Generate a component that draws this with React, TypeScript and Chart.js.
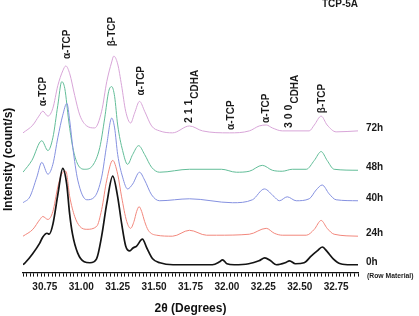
import { useEffect, useRef } from "react";
import { Chart, registerables } from "chart.js";

Chart.register(...registerables);

// 2θ positions (degrees) and stacked intensities (count/s, offset per sample)
const theta0h = [30.6, 30.615, 30.665, 30.715, 30.735, 30.765, 30.78, 30.805, 30.84, 30.873, 30.9, 30.92, 30.94, 30.975, 31.02, 31.06, 31.105, 31.14, 31.175, 31.216, 31.25, 31.277, 31.305, 31.333, 31.355, 31.38, 31.42, 31.45, 31.49, 31.54, 31.63, 31.75, 31.9, 31.95, 31.97, 32.0, 32.05, 32.15, 32.22, 32.26, 32.3, 32.34, 32.4, 32.43, 32.47, 32.53, 32.58, 32.62, 32.655, 32.69, 32.73, 32.78, 32.85, 32.9];
const counts0h = [8, 10, 19, 30, 36, 40, 39, 49, 80, 106, 90, 60, 39, 20, 11, 10, 14, 37, 70, 98, 77, 50, 27, 22, 25, 27, 34, 25, 14, 10, 8, 8, 8, 11, 13, 9, 8, 9, 12, 15, 12, 8, 10, 12, 9, 10, 17, 22, 26, 21, 14, 9, 8, 8];

const theta24h = [30.6, 30.668, 30.716, 30.736, 30.771, 30.805, 30.839, 30.865, 30.894, 30.921, 30.955, 30.99, 31.038, 31.106, 31.14, 31.175, 31.216, 31.25, 31.277, 31.312, 31.339, 31.362, 31.38, 31.397, 31.415, 31.435, 31.46, 31.517, 31.627, 31.743, 31.86, 31.928, 32.154, 32.27, 32.325, 32.38, 32.545, 32.6, 32.647, 32.688, 32.736, 32.9];
const counts24h = [37, 44, 54, 57, 54, 62, 87, 100, 103, 77, 57, 47, 44, 47, 64, 94, 114, 100, 77, 52, 45, 52, 62, 67, 62, 52, 43, 38, 37, 43, 38, 38, 39, 45, 40, 38, 38, 44, 53, 45, 39, 37];

const theta40h = [30.6, 30.647, 30.695, 30.729, 30.771, 30.805, 30.839, 30.873, 30.901, 30.921, 30.942, 30.976, 31.038, 31.092, 31.14, 31.175, 31.209, 31.229, 31.25, 31.284, 31.318, 31.353, 31.4, 31.435, 31.483, 31.538, 31.743, 32.038, 32.175, 32.257, 32.325, 32.36, 32.414, 32.476, 32.565, 32.613, 32.654, 32.702, 32.75, 32.9];
const counts40h = [71, 77, 97, 112, 100, 110, 137, 160, 172, 154, 127, 94, 74, 77, 97, 130, 157, 147, 120, 97, 85, 90, 102, 94, 79, 73, 75, 71, 74, 85, 77, 73, 77, 73, 75, 84, 89, 80, 74, 73];

const theta48h = [30.6, 30.661, 30.729, 30.771, 30.805, 30.839, 30.866, 30.887, 30.914, 30.942, 30.976, 31.024, 31.079, 31.127, 31.161, 31.188, 31.209, 31.229, 31.25, 31.284, 31.318, 31.353, 31.394, 31.435, 31.483, 31.538, 31.743, 31.962, 32.065, 32.154, 32.243, 32.312, 32.38, 32.449, 32.545, 32.6, 32.647, 32.688, 32.736, 32.9];
const counts48h = [102, 114, 134, 124, 137, 170, 194, 187, 154, 127, 110, 105, 109, 127, 157, 184, 189, 179, 150, 124, 110, 120, 129, 120, 107, 102, 105, 105, 102, 103, 109, 104, 103, 105, 105, 114, 123, 114, 105, 104];

const theta72h = [30.6, 30.668, 30.709, 30.736, 30.771, 30.805, 30.839, 30.873, 30.894, 30.921, 30.955, 30.99, 31.038, 31.092, 31.14, 31.175, 31.209, 31.223, 31.25, 31.277, 31.305, 31.339, 31.366, 31.4, 31.435, 31.483, 31.538, 31.627, 31.743, 31.832, 32.017, 32.154, 32.222, 32.27, 32.312, 32.38, 32.565, 32.6, 32.647, 32.688, 32.75, 32.9];
const counts72h = [142, 150, 159, 164, 159, 167, 190, 205, 210, 202, 180, 160, 149, 147, 164, 194, 214, 220, 212, 190, 164, 152, 162, 174, 164, 149, 144, 142, 149, 144, 142, 144, 149, 150, 147, 144, 144, 150, 159, 150, 143, 144];

const sampleNames = ["0h", "24h", "40h", "48h", "72h"];
const sampleThetas = [theta0h, theta24h, theta40h, theta48h, theta72h];
const sampleCounts = [counts0h, counts24h, counts40h, counts48h, counts72h];

// Reflection labels: 2θ of the peak, text, subscript, and level of the text foot
const peakTheta = [30.736, 30.901, 31.216, 31.414, 31.743, 32.031, 32.27, 32.428, 32.654];
const peakText = ["α-TCP", "α-TCP", "β-TCP", "α-TCP", "2 1 1", "α-TCP", "α-TCP", "3 0 0", "β-TCP"];
const peakSub = ["", "", "", "", "CDHA", "", "", "CDHA", ""];
const peakLevel = [169, 217, 230, 180, 152, 145, 152, 147, 162];

const xTickStep = 0.025;
const thetaMin = 30.6;
const thetaMax = 32.9;

const lineColors = ["#141414", "#f2877c", "#8591e0", "#62bd98", "#d8a5d8"];
const FONT = "'Liberation Sans', Arial, Helvetica, sans-serif";

const annotate = {
  id: "xrdAnnotations",
  afterDatasetsDraw(chart: any) {
    const { ctx, chartArea, scales } = chart;
    const x = scales.x;
    const y = scales.y;
    ctx.save();
    ctx.fillStyle = "#1a1a1a";

    // reflection assignments, written upward above each peak
    peakTheta.forEach((t, i) => {
      const px = x.getPixelForValue(t);
      const py = y.getPixelForValue(peakLevel[i]);
      ctx.save();
      ctx.translate(px, py);
      ctx.rotate(-Math.PI / 2);
      ctx.textAlign = "left";
      ctx.textBaseline = "middle";
      ctx.font = `bold ${peakSub[i] ? 10.5 : 10}px ${FONT}`;
      ctx.fillText(peakText[i], 0, 0);
      if (peakSub[i]) {
        const w = ctx.measureText(peakText[i]).width;
        ctx.font = `bold 10px ${FONT}`;
        ctx.fillText(peakSub[i], w + 1, 6);
      }
      ctx.restore();
    });

    // sample names at the right end of each trace
    ctx.textAlign = "left";
    ctx.textBaseline = "middle";
    ctx.font = `bold 10px ${FONT}`;
    let zeroY = 0;
    sampleNames.forEach((name, i) => {
      const c = sampleCounts[i];
      const py = y.getPixelForValue(c[c.length - 1] + 3);
      if (i === 0) zeroY = py;
      ctx.fillText(name, chartArea.right + 8, py);
    });
    ctx.font = `bold 6.8px ${FONT}`;
    ctx.fillText("(Row Material)", chartArea.right + 9, zeroY + 14);

    // sample code
    ctx.textAlign = "center";
    ctx.font = `bold 10px ${FONT}`;
    ctx.fillText("TCP-5A", chartArea.right - 18, 4);

    // intensity axis title
    ctx.save();
    ctx.translate(9, (chartArea.top + chartArea.bottom) / 2 + 23);
    ctx.rotate(-Math.PI / 2);
    ctx.textAlign = "center";
    ctx.textBaseline = "middle";
    ctx.font = `bold 12px ${FONT}`;
    ctx.fillStyle = "#111";
    ctx.fillText("Intensity (count/s)", 0, 0);
    ctx.restore();

    ctx.restore();
  },
};

const isMajor = (v: number) => Math.abs(v * 4 - Math.round(v * 4)) < 1e-6;

export default function App() {
  const ref = useRef<HTMLCanvasElement>(null);

  useEffect(() => {
    if (!ref.current) return;
    const datasets = sampleNames.map((name, i) => ({
      label: name,
      data: sampleThetas[i].map((t, j) => ({ x: t, y: sampleCounts[i][j] })),
      borderColor: lineColors[i],
      borderWidth: i === 0 ? 1.7 : 1,
      pointRadius: 0,
      fill: false,
      cubicInterpolationMode: "monotone" as const,
    }));

    const chart = new Chart(ref.current, {
      type: "line",
      data: { datasets },
      options: {
        responsive: false,
        animation: false,
        devicePixelRatio: 1,
        layout: { padding: { left: 23, right: 61, top: 0, bottom: 0 } },
        plugins: {
          legend: { display: false },
          tooltip: { enabled: false },
          title: { display: false },
        },
        scales: {
          x: {
            type: "linear",
            min: thetaMin,
            max: thetaMax,
            grid: {
              display: true,
              drawOnChartArea: false,
              drawTicks: true,
              tickLength: 4,
              tickColor: "#111",
              tickWidth: 1,
            },
            border: { display: true, color: "#111", width: 1.3 },
            ticks: {
              stepSize: xTickStep,
              autoSkip: false,
              maxTicksLimit: 200,
              maxRotation: 0,
              minRotation: 0,
              padding: 5,
              color: "#1a1a1a",
              font: { family: FONT, size: 10, weight: "bold" },
              callback: (v: any) => (isMajor(Number(v)) ? Number(v).toFixed(2) : ""),
            },
            title: {
              display: true,
              text: "2θ (Degrees)",
              color: "#111",
              font: { family: FONT, size: 12, weight: "bold" },
              padding: { top: 3, bottom: 0 },
            },
          },
          y: {
            type: "linear",
            display: false,
            min: 0,
            max: 277,
          },
        },
      },
      plugins: [annotate],
    });
    return () => chart.destroy();
  }, []);

  return (
    <div style={{ position: "absolute", left: 0, top: 0, width: 419, height: 316, background: "#fff" }}>
      <canvas ref={ref} width={419} height={316} style={{ display: "block" }} />
    </div>
  );
}
